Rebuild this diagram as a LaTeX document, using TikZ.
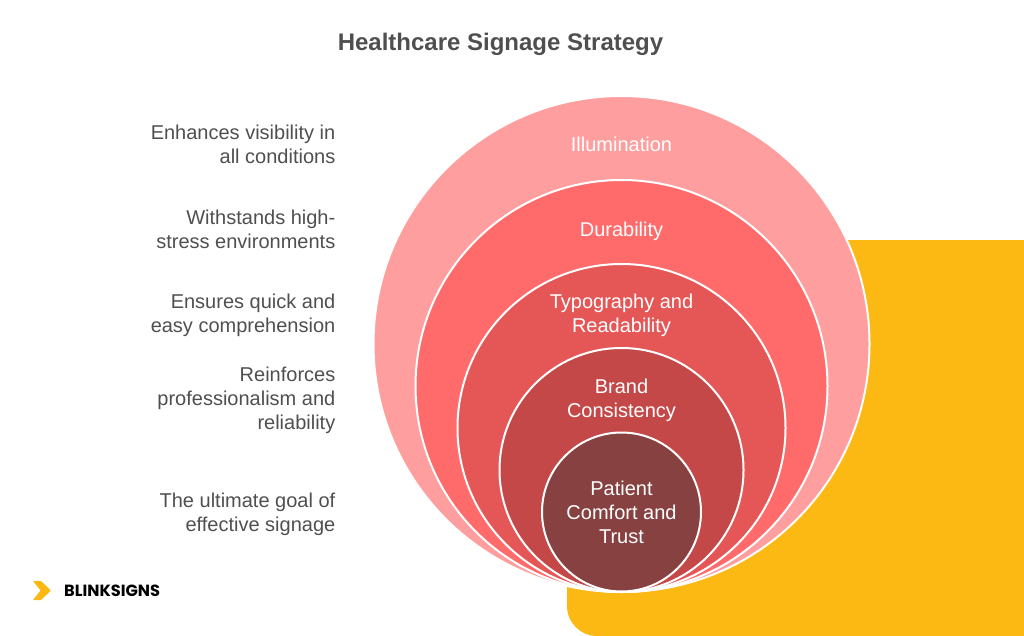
\documentclass[tikz,border=0pt]{standalone}
\usepackage{fontspec}
\setmainfont{Liberation Sans}
\newfontfamily\logofont{Poppins}
\definecolor{ringA}{HTML}{FF9E9E}
\definecolor{ringB}{HTML}{FF6B6B}
\definecolor{ringC}{HTML}{E55757}
\definecolor{ringD}{HTML}{C44848}
\definecolor{ringE}{HTML}{874141}
\definecolor{signyellow}{HTML}{FDB913}
\definecolor{textgrey}{HTML}{4F4F4F}
\tikzset{
	ring/.style={circle,draw=white,line width=2pt,inner sep=0pt},
	ringlabel/.style={align=center,text=white,font=\fontsize{20}{24}\selectfont},
	note/.style={anchor=east,align=right,inner sep=0pt,text=textgrey,font=\fontsize{20}{24}\selectfont}
}
\begin{document}
\begin{tikzpicture}[x=1pt,y=-1pt]
	\useasboundingbox (0,0) rectangle (1024,636);
	\fill[color=signyellow] (1024,240) -- (567,240) -- (567,606) arc (180:90:30) -- (1024,636) -- cycle;
	\node[ring,fill=ringA,minimum size=496pt] (illumination) at (621.5,344) {};
	\node[ring,fill=ringB,minimum size=412pt] (durability) at (621.5,386) {};
	\node[ring,fill=ringC,minimum size=328pt] (typography) at (621.5,428) {};
	\node[ring,fill=ringD,minimum size=244pt] (brand) at (621.5,470) {};
	\node[ring,fill=ringE,minimum size=159pt] (patient) at (621.5,512) {};
	\node[ringlabel] (illuminationlabel) at (621.5,144) {Illumination};
	\node[ringlabel] (durabilitylabel) at (621.5,231) {Durability};
	\node[ringlabel] (typographylabel) at (621.5,315) {Typography and\\Readability};
	\node[ringlabel] (brandlabel) at (621.5,400) {Brand\\Consistency};
	\node[ringlabel] (patientlabel) at (621.5,512) {Patient\\Comfort and\\Trust};
	\node[note] (illuminationnote) at (335.5,144) {Enhances visibility in\\all conditions};
	\node[note] (durabilitynote) at (335.5,229) {Withstands high-\\stress environments};
	\node[note] (typographynote) at (335.5,315) {Ensures quick and\\easy comprehension};
	\node[note] (brandnote) at (335.5,400) {Reinforces\\professionalism and\\reliability};
	\node[note] (patientnote) at (335.5,514) {The ultimate goal of\\effective signage};
	\node[text=textgrey,font=\fontsize{24}{28}\selectfont\bfseries] (title) at (500.5,44.5) {Healthcare Signage Strategy};
	\fill[color=signyellow,rounded corners=0.8pt] (33,581) -- (41,581) -- (51,590.5) -- (41,600) -- (33,600) -- (40.5,590.5) -- cycle;
	\node[anchor=west,inner sep=0pt,text=black,font=\logofont\fontsize{16.2}{20}\selectfont\bfseries] (logo) at (64,590.5) {BLINKSIGNS};
\end{tikzpicture}
\end{document}
